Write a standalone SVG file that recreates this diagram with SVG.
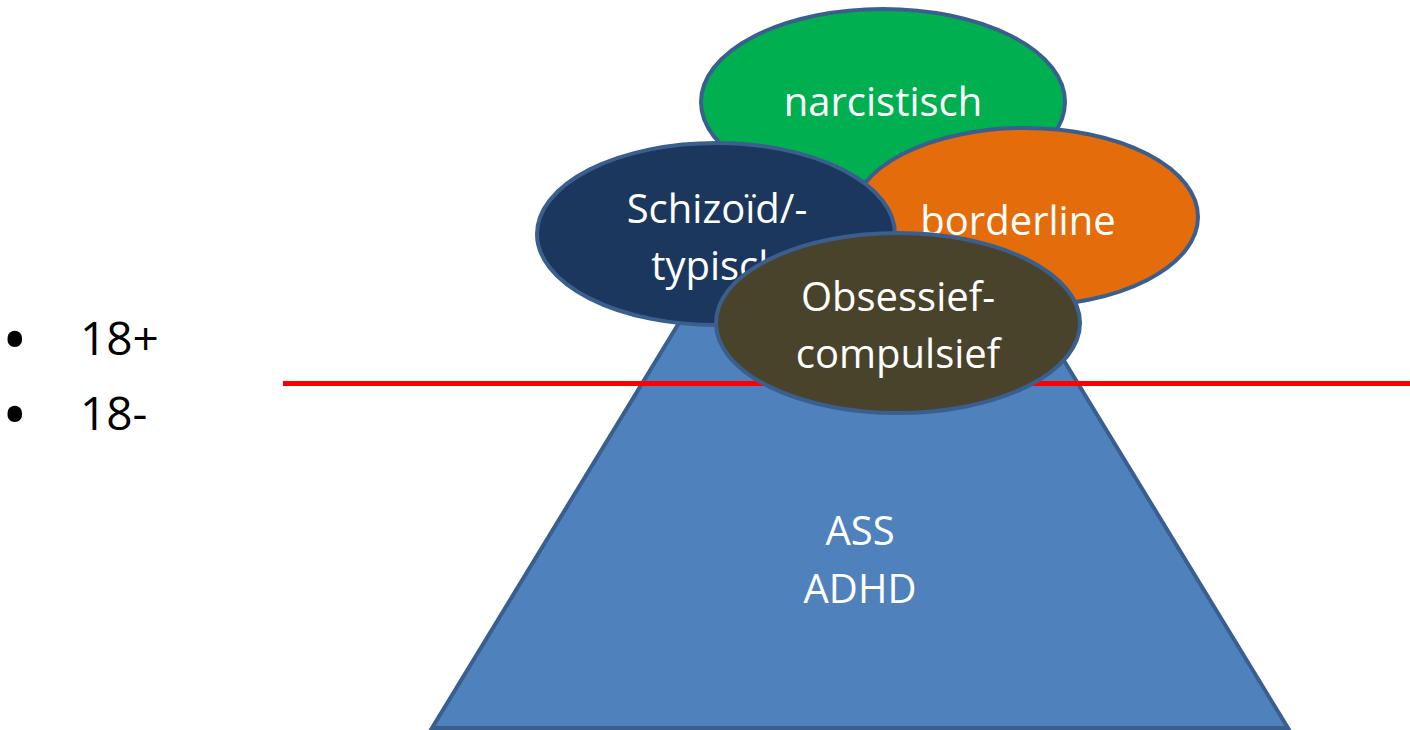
<svg xmlns="http://www.w3.org/2000/svg" width="1410" height="730" viewBox="0 0 1410 730">
<style>
.lbl{font-family:"Open Sans","Liberation Sans",sans-serif;font-size:40px;fill:#ffffff;text-anchor:middle}
.sh{stroke:#3A5F8E;stroke-width:4}
.side{font-family:"Open Sans","Liberation Sans",sans-serif;font-size:46px;fill:#000000}
.bul{font-family:"Open Sans","Liberation Sans",sans-serif;font-size:52px;font-weight:bold;fill:#000000}
</style>
<rect width="1410" height="730" fill="#ffffff"/>
<g id="pyramid">
<polygon class="sh" points="432,728 1288,728 1038,318 682,318" fill="#4F81BD"/>
<text class="lbl" x="860" y="545">ASS</text>
<text class="lbl" x="860" y="603">ADHD</text>
</g>
<g id="narcistisch">
<ellipse class="sh" cx="883" cy="102" rx="182" ry="93" fill="#00B050"/>
<text class="lbl" x="883" y="116">narcistisch</text>
</g>
<g id="borderline">
<ellipse class="sh" cx="1025" cy="217" rx="173" ry="89" fill="#E46C0A"/>
<text class="lbl" x="1018" y="235">borderline</text>
</g>
<g id="schizoid">
<ellipse class="sh" cx="716" cy="234" rx="179" ry="91" fill="#1B375E"/>
<text class="lbl" x="717" y="223">Schizoïd/-</text>
<text class="lbl" x="717" y="280">typisch</text>
</g>
<g id="connectors">
<line x1="283" y1="383.5" x2="1410" y2="383.5" stroke="#FF0000" stroke-width="5"/>
</g>
<g id="obsessief">
<ellipse class="sh" cx="898" cy="323" rx="182" ry="90" fill="#4A432B"/>
<text class="lbl" x="898" y="311">Obsessief-</text>
<text class="lbl" x="898" y="368">compulsief</text>
</g>
<g id="legend">
<text class="bul" x="5" y="358">•</text>
<text class="side" x="80" y="355">18+</text>
<text class="bul" x="5" y="433">•</text>
<text class="side" x="80" y="430">18-</text>
</g>
</svg>
